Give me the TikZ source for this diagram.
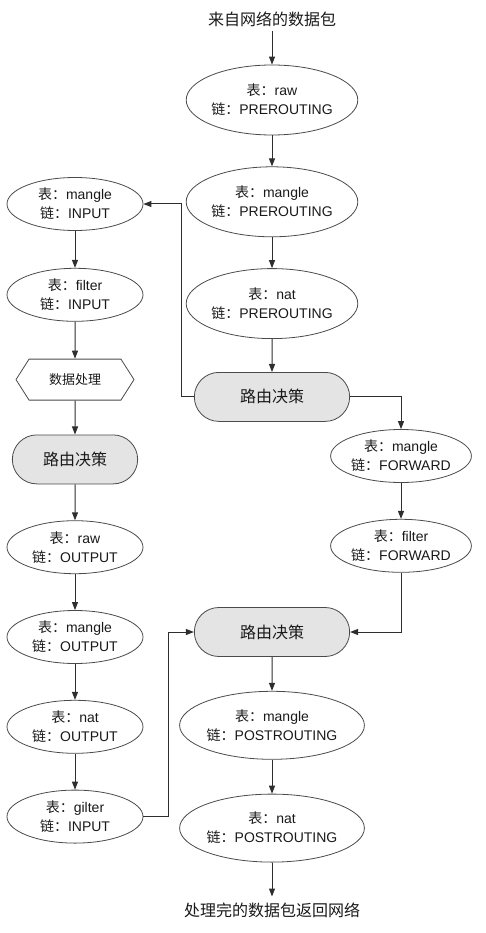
\documentclass[tikz,border=0pt]{standalone}
\usepackage{fontspec}
\setmainfont{Liberation Sans}
\newfontfamily\cjk{Noto Sans CJK SC}
\usepackage{tikz}
\usetikzlibrary{arrows.meta,positioning,shapes.geometric,shapes.misc,shapes.symbols}
\definecolor{linecol}{HTML}{2E2E2E}
\definecolor{edgecol}{HTML}{4A4A4A}
\definecolor{routefill}{HTML}{E4E4E4}
\newcommand{\tblchain}[2]{{\cjk 表：}#1\\{\cjk 链：}#2}

\begin{document}
\begin{tikzpicture}[
  x=1pt, y=1pt,
  tbl/.style={ellipse, draw=edgecol, line width=0.8pt, minimum width=136pt, minimum height=53pt, inner sep=0pt, align=center, text=black!90, font=\fontsize{14}{19}\selectfont},
  wide/.style={minimum width=160pt, minimum height=70pt},
  wider/.style={minimum width=177pt, minimum height=68pt},
  route/.style={rounded rectangle, draw=edgecol, fill=routefill, line width=0.8pt, minimum width=162pt, minimum height=49pt, text=black!90, font=\cjk\fontsize{16}{19}\selectfont},
  proc/.style={signal, signal to=west and east, signal pointer angle=115, draw=edgecol, line width=0.8pt, minimum width=118pt, minimum height=41pt, text=black!90, font=\cjk\fontsize{13}{16}\selectfont},
  txt/.style={text=black!90, font=\cjk\fontsize{16}{19}\selectfont},
  arrow/.style={-{Triangle[length=8pt,width=6pt]}, draw=linecol, line width=1pt},
  node distance=31pt]
  \useasboundingbox (0,0) rectangle (486,-933);

  % incoming packets
  \node[tbl, wide] (rawPre) at (272,-100) {\tblchain{raw}{PREROUTING}};
  \node[txt, above=34pt of rawPre] (src) {来自网络的数据包};
  \node[tbl, wide, below=of rawPre] (manglePre) {\tblchain{mangle}{PREROUTING}};
  \node[tbl, wide, below=of manglePre] (natPre) {\tblchain{nat}{PREROUTING}};
  \node[route, below=33pt of natPre] (routeA) {路由决策};

  % local process
  \node[tbl] (mangleIn) at (75,-204) {\tblchain{mangle}{INPUT}};
  \node[tbl, below=37pt of mangleIn] (filterIn) {\tblchain{filter}{INPUT}};
  \node[proc, below=37pt of filterIn] (handle) {数据处理};
  \node[route, minimum width=132pt, below=34pt of handle] (routeB) {路由决策};
  \node[tbl, below=36pt of routeB] (rawOut) {\tblchain{raw}{OUTPUT}};
  \node[tbl, below=36pt of rawOut] (mangleOut) {\tblchain{mangle}{OUTPUT}};
  \node[tbl, below=36pt of mangleOut] (natOut) {\tblchain{nat}{OUTPUT}};
  \node[tbl, below=36pt of natOut] (gilterIn) {\tblchain{gilter}{INPUT}};

  % forwarding
  \node[tbl] (mangleFwd) at (401,-456) {\tblchain{mangle}{FORWARD}};
  \node[tbl, below=36pt of mangleFwd] (filterFwd) {\tblchain{filter}{FORWARD}};

  % outgoing packets
  \node[route] (routeC) at (272,-632) {路由决策};
  \node[tbl, wider, below=34pt of routeC] (manglePost) {\tblchain{mangle}{POSTROUTING}};
  \node[tbl, wider, below=34pt of manglePost] (natPost) {\tblchain{nat}{POSTROUTING}};
  \node[txt, inner ysep=6pt, below=34pt of natPost] (dst) {处理完的数据包返回网络};

  \draw[arrow] (src) -- (rawPre);
  \draw[arrow] (rawPre) -- (manglePre);
  \draw[arrow] (manglePre) -- (natPre);
  \draw[arrow] (natPre) -- (routeA);
  \draw[arrow] (routeA.west) -- ++(-12,0) |- (mangleIn.east);
  \draw[arrow] (routeA.east) -| (mangleFwd.north);
  \draw[arrow] (mangleIn) -- (filterIn);
  \draw[arrow] (filterIn) -- (handle);
  \draw[arrow] (handle) -- (routeB);
  \draw[arrow] (routeB) -- (rawOut);
  \draw[arrow] (rawOut) -- (mangleOut);
  \draw[arrow] (mangleOut) -- (natOut);
  \draw[arrow] (natOut) -- (gilterIn);
  \draw[arrow] (gilterIn.east) -- ++(25,0) |- (routeC.west);
  \draw[arrow] (mangleFwd) -- (filterFwd);
  \draw[arrow] (filterFwd.south) |- (routeC.east);
  \draw[arrow] (routeC) -- (manglePost);
  \draw[arrow] (manglePost) -- (natPost);
  \draw[arrow] (natPost) -- (dst);
\end{tikzpicture}
\end{document}
